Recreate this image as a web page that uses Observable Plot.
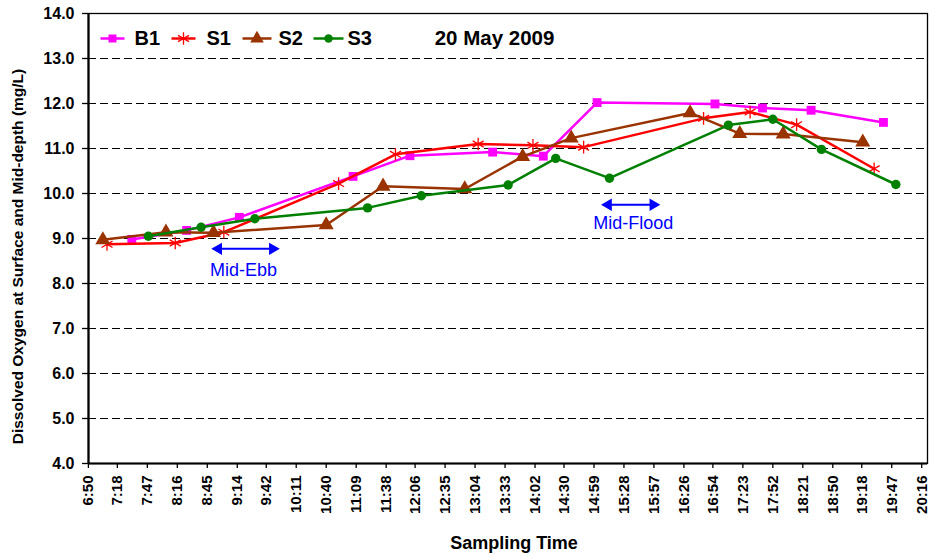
<!DOCTYPE html>
<html>
<head>
<meta charset="utf-8">
<script src="https://cdn.jsdelivr.net/npm/d3@7"></script>
<script src="https://cdn.jsdelivr.net/npm/@observablehq/plot@0.6"></script>
<style>
  html, body { margin: 0; padding: 0; background: #fff; }
  #chart { width: 929px; height: 558px; }
</style>
</head>
<body>
<div id="chart"></div>
<script>
// ---------- data ----------
const seriesNames = ["B1", "S1", "S2", "S3"];

const b1Times  = ["7:32","8:25","9:16","11:06","12:01","13:21","14:10","15:02","16:56","17:42","18:29","19:39"];
const b1Values = [8.98, 9.18, 9.47, 10.38, 10.84, 10.92, 10.83, 12.02, 11.99, 11.90, 11.85, 11.58];

const s1Times  = ["7:08","8:14","9:01","10:52","11:47","13:07","14:00","14:49","16:45","17:30","18:15","19:30"];
const s1Values = [8.87, 8.90, 9.14, 10.22, 10.87, 11.10, 11.07, 11.03, 11.67, 11.81, 11.53, 10.55];

const s2Times  = ["7:04","8:05","8:51","10:40","11:35","12:54","13:50","14:37","16:32","17:20","18:02","19:19"];
const s2Values = [8.97, 9.14, 9.13, 9.30, 10.16, 10.10, 10.82, 11.23, 11.79, 11.33, 11.32, 11.14];

const s3Times  = ["7:48","8:39","9:31","11:20","12:12","13:36","14:22","15:14","17:09","17:52","18:39","19:51"];
const s3Values = [9.05, 9.25, 9.44, 9.68, 9.95, 10.19, 10.78, 10.34, 11.52, 11.65, 10.98, 10.20];

const xTickLabels = ["6:50","7:18","7:47","8:16","8:45","9:14","9:42","10:11","10:40","11:09","11:38","12:06","12:35","13:04","13:33","14:02","14:30","14:59","15:28","15:57","16:26","16:54","17:23","17:52","18:21","18:50","19:18","19:47","20:16"];
const yTicks = [4, 5, 6, 7, 8, 9, 10, 11, 12, 13, 14];
const gridValues = [5, 6, 7, 8, 9, 10, 11, 12, 13];

const titleText = "20 May 2009";
const xTitle = "Sampling Time";
const yTitle = "Dissolved Oxygen at Surface and Mid-depth (mg/L)";

const tideLabels = ["Mid-Ebb", "Mid-Flood"];
const tideStart  = ["8:49", "15:06"];
const tideEnd    = ["9:55", "16:03"];
const tideArrowY = [8.77, 9.75];
const tideTextX  = ["9:20", "15:37"];
const tideTextY  = [8.30, 9.33];

// ---------- helpers ----------
const toMin = s => { const [h, m] = s.split(":").map(Number); return h * 60 + m; };

const seriesTimes  = [b1Times, s1Times, s2Times, s3Times];
const seriesValues = [b1Values, s1Values, s2Values, s3Values];
const colors  = ["#FF00FF", "#FF0000", "#993300", "#008000"];
const symbols = ["square", "asterisk", "triangle", "circle"];
const radii   = [5, 6, 5.6, 4.7];

const rows = seriesNames.map((name, i) =>
  seriesTimes[i].map((t, j) => ({ name, t: toMin(t), v: seriesValues[i][j] })));

const W = 929, H = 558;
const mL = 88, mR = 2, mT = 13, mB = 95;
const xDomain = [410.1, 1221.6];
const yDomain = [4, 14];
// pixel -> data (for legend placement only)
const xInv = px => xDomain[0] + (px - mL) / (W - mR - mL) * (xDomain[1] - xDomain[0]);
const yInv = py => yDomain[1] - (py - mT) / (H - mB - mT) * (yDomain[1] - yDomain[0]);

const font = "'Liberation Sans', Arial, Helvetica, sans-serif";

const marks = [];

// gridlines
marks.push(Plot.ruleY(gridValues, { stroke: "#000", strokeWidth: 1, strokeDasharray: "8,4" }));

// series
rows.forEach((data, i) => {
  marks.push(Plot.line(data, { x: "t", y: "v", stroke: colors[i], strokeWidth: 2.5 }));
  if (symbols[i] === "asterisk") {
    marks.push(Plot.dot(data, { x: "t", y: "v", symbol: "asterisk", r: radii[i], stroke: colors[i], strokeWidth: 1.3 }));
  } else {
    marks.push(Plot.dot(data, { x: "t", y: "v", symbol: symbols[i], r: radii[i], fill: colors[i], stroke: "none" }));
  }
});

// tide annotations (double arrows)
const tide = tideLabels.map((label, i) => ({
  label, x1: toMin(tideStart[i]), x2: toMin(tideEnd[i]), y: tideArrowY[i],
  tx: toMin(tideTextX[i]), ty: tideTextY[i]
}));
marks.push(Plot.link(tide, { x1: d => d.x1 + 6, x2: d => d.x2 - 6, y1: "y", y2: "y", stroke: "#0000FF", strokeWidth: 2 }));
marks.push(Plot.dot(tide, { x: "x1", y: "y", symbol: "triangle", r: 4.6, rotate: -90, dx: 7, fill: "#0000FF", stroke: "none" }));
marks.push(Plot.dot(tide, { x: "x2", y: "y", symbol: "triangle", r: 4.6, rotate: 90, dx: -7, fill: "#0000FF", stroke: "none" }));
marks.push(Plot.text(tide, { x: "tx", y: "ty", text: "label", fill: "#0000FF", fontSize: 18, fontWeight: "normal", textAnchor: "middle" }));

// legend (inside plot, top-left)
const legLine = [[100, 124], [171, 195], [242, 271], [313, 343]];
const legText = [134, 206, 278, 347];
const legY = yInv(38);
const legend = seriesNames.map((name, i) => ({
  name, i, x1: xInv(legLine[i][0]), x2: xInv(legLine[i][1]),
  xm: xInv((legLine[i][0] + legLine[i][1]) / 2), xt: xInv(legText[i])
}));
marks.push(Plot.link(legend, { x1: "x1", x2: "x2", y1: legY, y2: legY, stroke: d => colors[d.i], strokeWidth: 2.5 }));
legend.forEach(d => {
  if (symbols[d.i] === "asterisk")
    marks.push(Plot.dot([d], { x: "xm", y: legY, symbol: "asterisk", r: radii[d.i], stroke: colors[d.i], strokeWidth: 1.3 }));
  else
    marks.push(Plot.dot([d], { x: "xm", y: legY, symbol: symbols[d.i], r: radii[d.i] * 0.9, fill: colors[d.i], stroke: "none" }));
});
marks.push(Plot.text(legend, { x: "xt", y: legY, text: "name", textAnchor: "start", fontSize: 20, fontWeight: "bold", fill: "#000" }));
marks.push(Plot.text([titleText], { x: xInv(494), y: legY, textAnchor: "middle", fontSize: 20.5, fontWeight: "bold", fill: "#000" }));

// axes
marks.push(Plot.axisY({ ticks: yTicks, tickFormat: d => d.toFixed(1), tickSize: 6, tickPadding: 8, fontSize: 16, fontWeight: "bold", label: null, stroke: "#000", strokeWidth: 1.3, fill: "#000" }));
marks.push(Plot.axisX({ ticks: xTickLabels.map(toMin), tickFormat: (d, i) => xTickLabels[i], tickRotate: -90, tickSize: 5, tickPadding: 7, fontSize: 15, fontWeight: "bold", label: null, stroke: "#000", strokeWidth: 1.3, fill: "#000" }));

// frame
marks.push(Plot.frame({ stroke: "#000", strokeWidth: 1.3 }));
marks.push(Plot.ruleX([xDomain[0]], { stroke: "#000", strokeWidth: 2.2 }));
marks.push(Plot.ruleY([yDomain[0]], { stroke: "#000", strokeWidth: 2 }));

// axis titles
marks.push(Plot.text([yTitle], { frameAnchor: "left", textAnchor: "middle", lineAnchor: "middle", dx: -70.5, dy: 18, rotate: -90, fontSize: 15.5, fontWeight: "bold", fill: "#000" }));
marks.push(Plot.text([xTitle], { frameAnchor: "bottom", textAnchor: "middle", lineAnchor: "middle", dx: 6, dy: 80, fontSize: 18, fontWeight: "bold", fill: "#000" }));

const chart = Plot.plot({
  width: W, height: H,
  marginLeft: mL, marginRight: mR, marginTop: mT, marginBottom: mB,
  x: { domain: xDomain },
  y: { domain: yDomain },
  style: { fontFamily: font, background: "#fff", color: "#000", overflow: "visible" },
  marks
});
document.getElementById("chart").appendChild(chart);
</script>
</body>
</html>
